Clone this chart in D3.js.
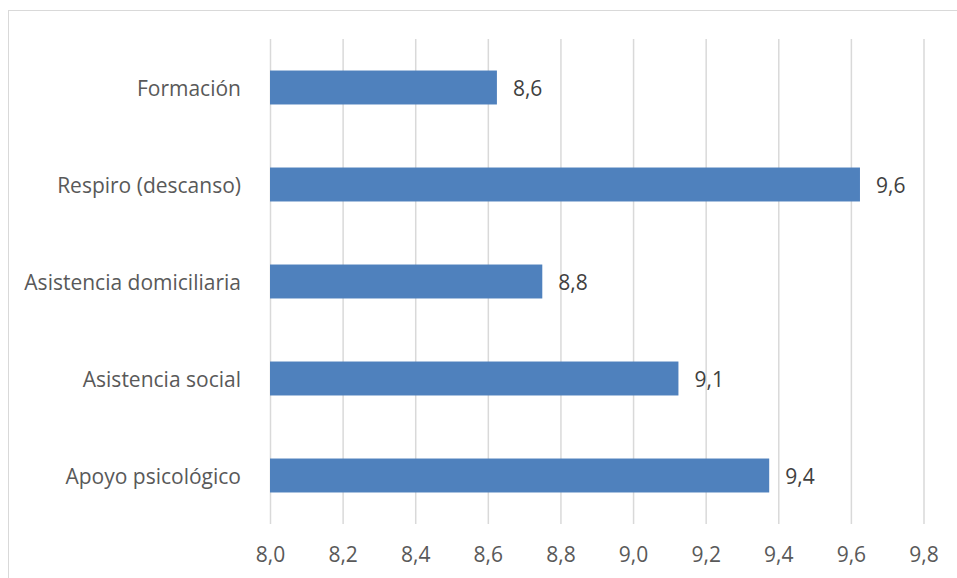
<!DOCTYPE html>
<html>
<head>
<meta charset="utf-8">
<script src="https://cdn.jsdelivr.net/npm/d3@7"></script>
<style>
  html, body { margin: 0; padding: 0; background: #fff; }
  svg { display: block; font-family: "Open Sans", "Noto Sans", sans-serif; }
</style>
</head>
<body>
<svg id="chart" width="957" height="578"></svg>
<script>
const categories = ["Formación", "Respiro (descanso)", "Asistencia domiciliaria", "Asistencia social", "Apoyo psicológico"];
const values = [8.625, 9.625, 8.75, 9.125, 9.375];
const xTicks = [8.0, 8.2, 8.4, 8.6, 8.8, 9.0, 9.2, 9.4, 9.6, 9.8];

const svg = d3.select("#chart");
const W = 957, H = 578;
const plot = { left: 270, right: 923.5, top: 39, bottom: 524 };
const FS = "21px";

// chart border
svg.append("rect")
  .attr("x", 8.5).attr("y", 10.5)
  .attr("width", W + 10).attr("height", H + 10)
  .attr("fill", "none").attr("stroke", "#d9d9d9").attr("stroke-width", 1);

const x = d3.scaleLinear().domain([8.0, 9.8]).range([plot.left, plot.right]);
const y = d3.scaleBand().domain(categories).range([plot.top, plot.bottom])
  .paddingInner(0.65).paddingOuter(0.325);

const fmt = v => v.toFixed(1).replace(".", ",");

// gridlines
const xAxis = d3.axisBottom(x).tickValues(xTicks)
  .tickSize(-(plot.bottom - plot.top)).tickSizeOuter(0).tickPadding(0).tickFormat(fmt);
const gx = svg.append("g").attr("transform", `translate(0,${plot.bottom})`).call(xAxis);
gx.select(".domain").remove();
gx.selectAll(".tick line").attr("stroke", "#d9d9d9").attr("stroke-width", 1.5);
gx.selectAll(".tick text")
  .attr("y", 0).attr("dy", 0)
  .attr("transform", "translate(0,38)")
  .attr("fill", "#595959").attr("font-size", FS)
  .attr("font-family", "'Open Sans', 'Noto Sans', sans-serif");

// bars
svg.append("g").selectAll("rect")
  .data(categories)
  .join("rect")
  .attr("x", x(8.0))
  .attr("y", d => y(d))
  .attr("width", (d, i) => x(values[i]) - x(8.0))
  .attr("height", y.bandwidth())
  .attr("fill", "#4f81bd");

// category labels
const yAxis = d3.axisLeft(y).tickSize(0).tickPadding(29);
const gy = svg.append("g").attr("transform", `translate(${plot.left},0)`).call(yAxis);
gy.select(".domain").remove();
gy.selectAll(".tick text")
  .attr("dy", "0.42em")
  .attr("fill", "#595959").attr("font-size", FS)
  .attr("font-family", "'Open Sans', 'Noto Sans', sans-serif");

// data labels
svg.append("g").selectAll("text")
  .data(categories)
  .join("text")
  .attr("x", (d, i) => x(values[i]) + 16)
  .attr("y", d => y(d) + y.bandwidth() / 2)
  .attr("dy", "0.42em")
  .attr("fill", "#404040").attr("font-size", FS)
  .text((d, i) => fmt(values[i]));
</script>
</body>
</html>
